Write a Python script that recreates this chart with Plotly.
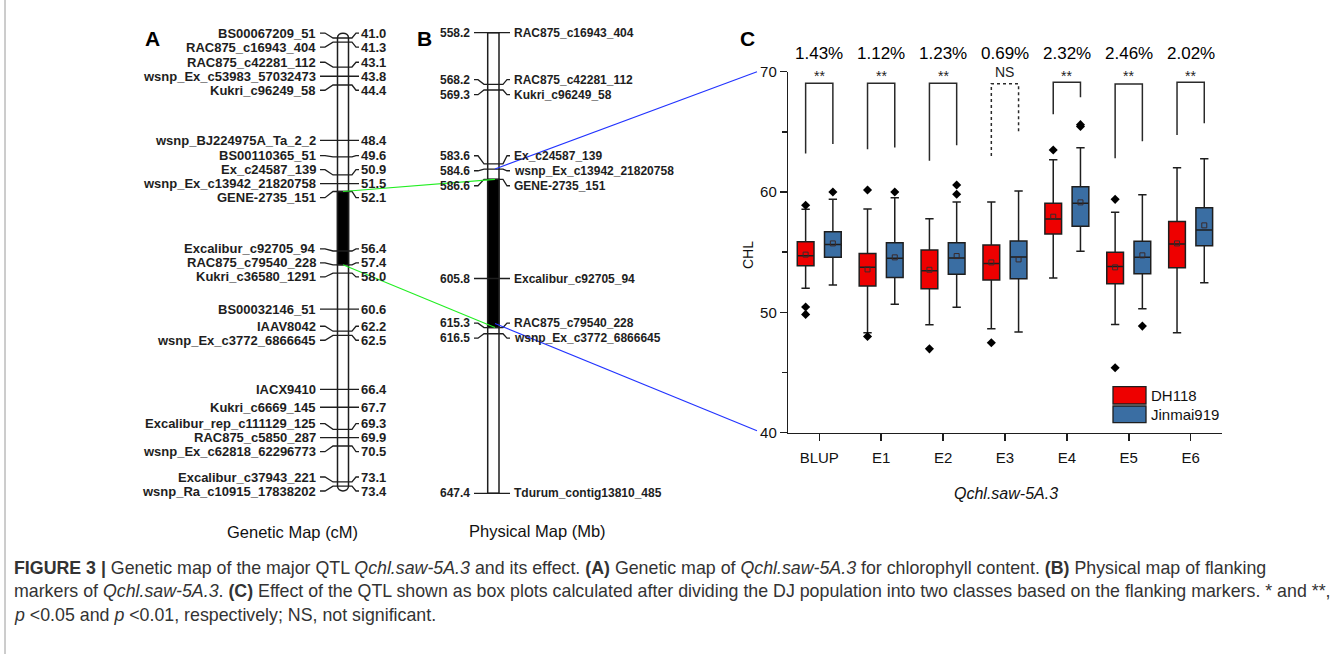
import plotly.graph_objects as go

W, H = 1342, 654

# ---------------- DATA ----------------
genetic_markers = ["BS00067209_51", "RAC875_c16943_404", "RAC875_c42281_112", "wsnp_Ex_c53983_57032473",
                   "Kukri_c96249_58", "wsnp_BJ224975A_Ta_2_2", "BS00110365_51", "Ex_c24587_139",
                   "wsnp_Ex_c13942_21820758", "GENE-2735_151", "Excalibur_c92705_94", "RAC875_c79540_228",
                   "Kukri_c36580_1291", "BS00032146_51", "IAAV8042", "wsnp_Ex_c3772_6866645", "IACX9410",
                   "Kukri_c6669_145", "Excalibur_rep_c111129_125", "RAC875_c5850_287",
                   "wsnp_Ex_c62818_62296773", "Excalibur_c37943_221", "wsnp_Ra_c10915_17838202"]
genetic_cm = [41.0, 41.3, 43.1, 43.8, 44.4, 48.4, 49.6, 50.9, 51.5, 52.1, 56.4, 57.4, 58.0, 60.6, 62.2,
              62.5, 66.4, 67.7, 69.3, 69.9, 70.5, 73.1, 73.4]
physical_markers = ["RAC875_c16943_404", "RAC875_c42281_112", "Kukri_c96249_58", "Ex_c24587_139",
                    "wsnp_Ex_c13942_21820758", "GENE-2735_151", "Excalibur_c92705_94", "RAC875_c79540_228",
                    "wsnp_Ex_c3772_6866645", "Tdurum_contig13810_485"]
physical_mb = [558.2, 568.2, 569.3, 583.6, 584.6, 586.6, 605.8, 615.3, 616.5, 647.4]
qtl_cm = [52.1, 57.4]
qtl_mb = [586.6, 615.3]

envs = ["BLUP", "E1", "E2", "E3", "E4", "E5", "E6"]
dh_q1 = [53.87, 52.20, 51.96, 52.68, 56.51, 52.38, 53.71]
dh_median = [54.70, 53.74, 53.46, 54.07, 57.76, 53.82, 55.68]
dh_q3 = [55.87, 54.90, 55.18, 55.60, 59.06, 54.99, 57.56]
dh_low = [52.00, 48.30, 48.97, 48.64, 52.85, 49.00, 48.30]
dh_high = [58.56, 58.60, 57.78, 59.17, 62.69, 58.31, 62.02]
dh_mean = [54.80, 53.57, 53.54, 54.15, 57.95, 53.74, 55.73]
dh_outliers = [[58.90, 50.44, 49.83], [60.17, 48.00], [46.97], [47.47], [63.49], [59.39, 45.40], []]

jm_q1 = [54.57, 52.90, 53.16, 52.79, 57.15, 53.21, 55.54]
jm_median = [55.65, 54.49, 54.51, 54.60, 59.06, 54.57, 56.84]
jm_q3 = [56.70, 55.79, 55.79, 55.93, 60.44, 55.90, 58.70]
jm_low = [52.27, 50.67, 50.42, 48.36, 55.07, 50.31, 52.46]
jm_high = [59.40, 59.53, 59.17, 60.08, 63.68, 59.78, 62.77]
jm_mean = [55.73, 54.57, 54.68, 54.40, 59.14, 54.74, 57.23]
jm_outliers = [[60.00], [60.00], [60.58, 59.81], [], [65.45, 65.60], [48.86], []]

bracket_top = [69.03, 69.03, 69.03, 69.00, 69.12, 68.98, 69.12]
bracket_left = [63.20, 63.55, 62.60, 62.99, 66.46, 62.80, 64.74]
bracket_right = [63.99, 63.71, 63.88, 64.82, 67.87, 64.21, 65.71]
significance = ["**", "**", "**", "NS", "**", "**", "**"]
effect_pct = ["1.43%", "1.12%", "1.23%", "0.69%", "2.32%", "2.46%", "2.02%"]

# ---------------- LAYOUT CONSTANTS ----------------
BASE = "Liberation Sans, Arial, sans-serif"
INK = "#1e1e1e"
RED = "#EE0000"
BLUE = "#3A6EA3"

A_P0, A_C0, A_K = 38.0, 41.0, 13.83      # genetic map: pixel = A_P0 + (cM - A_C0) * A_K
B_P0, B_C0, B_K = 32.7, 558.2, 5.164     # physical map
C_X0, C_X1 = 788.3, 1221.6               # panel C pixel frame
C_Y0, C_Y1 = 71.7, 432.7
C_YMIN, C_YMAX = 40, 70


def a_px(v):
    return A_P0 + (v - A_C0) * A_K


def b_px(v):
    return B_P0 + (v - B_C0) * B_K


def c_px(v):
    return C_Y1 - (v - C_YMIN) / (C_YMAX - C_YMIN) * (C_Y1 - C_Y0)


def spread(values, gap):
    """cluster-based label spreading (in axis units)"""
    clusters = []
    for v in values:
        clusters.append([v])
        while len(clusters) > 1:
            prev, cur = clusters[-2], clusters[-1]
            mp = sum(prev) / len(prev)
            mc = sum(cur) / len(cur)
            top_cur = mc - (len(cur) - 1) * gap / 2
            bot_prev = mp + (len(prev) - 1) * gap / 2
            if top_cur - bot_prev < gap:
                clusters[-2] = prev + cur
                clusters.pop()
            else:
                break
    out = []
    for c in clusters:
        m = sum(c) / len(c)
        for i in range(len(c)):
            out.append(m + (i - (len(c) - 1) / 2) * gap)
    return out


def ann(x, y, text, size, color="#111", xa="center", ya="middle", **kw):
    return dict(x=x / W, y=1 - y / H, xref="paper", yref="paper", text=text, showarrow=False,
                xanchor=xa, yanchor=ya, font=dict(family=BASE, size=size, color=color), **kw)


fig = go.Figure()

# ---------------- PANEL A & B ----------------
a_label_y = spread(genetic_cm, 14.0 / A_K)
b_label_y = spread(physical_mb, 15.0 / B_K)

AXL, AXR = 337.5, 348.5
BXL, BXR = 487.7, 499.0

ax_, ay_ = [], []
for cm, ly in zip(genetic_cm, a_label_y):
    ax_ += [320, 325, 333, AXL, AXR, 352, 356, 359, None]
    ay_ += [ly, ly, cm, cm, cm, cm, ly, ly, None]
fig.add_trace(go.Scatter(x=ax_, y=ay_, xaxis="x2", yaxis="y2", mode="lines",
                         line=dict(color=INK, width=1.3), hoverinfo="skip", showlegend=False))
bx_, by_ = [], []
for mb, ly in zip(physical_mb, b_label_y):
    bx_ += [474, 478, 484, BXL, BXR, 503, 507, 510, None]
    by_ += [ly, ly, mb, mb, mb, mb, ly, ly, None]
fig.add_trace(go.Scatter(x=bx_, y=by_, xaxis="x3", yaxis="y3", mode="lines",
                         line=dict(color=INK, width=1.3), hoverinfo="skip", showlegend=False))

annotations = []
LBL_A = dict(family=BASE, size=13, color=INK, weight="bold")
LBL_B = dict(family=BASE, size=12, color=INK, weight="bold")
for name, cm, ly in zip(genetic_markers, genetic_cm, a_label_y):
    annotations.append(dict(x=318, y=ly, xref="x2", yref="y2", text=name, showarrow=False,
                            xanchor="right", yanchor="middle", font=LBL_A))
    annotations.append(dict(x=359, y=ly, xref="x2", yref="y2", text=f"{cm:.1f}", showarrow=False,
                            xanchor="left", yanchor="middle", font=LBL_A))
for name, mb, ly in zip(physical_markers, physical_mb, b_label_y):
    annotations.append(dict(x=472, y=ly, xref="x3", yref="y3", text=f"{mb:.1f}", showarrow=False,
                            xanchor="right", yanchor="middle", font=LBL_B))
    annotations.append(dict(x=512, y=ly, xref="x3", yref="y3", text=name, showarrow=False,
                            xanchor="left", yanchor="middle", font=LBL_B))

shapes = []
top, bot = min(genetic_cm), max(genetic_cm)
cap = 6.5 / A_K
shapes.append(dict(type="path", xref="x2", yref="y2", layer="below",
                   path=(f"M {AXL},{top} C {AXL},{top - cap} {AXR},{top - cap} {AXR},{top} "
                         f"L {AXR},{bot} C {AXR},{bot + cap} {AXL},{bot + cap} {AXL},{bot} Z"),
                   fillcolor="white", line=dict(color=INK, width=1.5)))
shapes.append(dict(type="rect", xref="x2", yref="y2", layer="below", x0=AXL, x1=AXR,
                   y0=qtl_cm[0], y1=qtl_cm[1], fillcolor="black", line=dict(color=INK, width=1.5)))
shapes.append(dict(type="rect", xref="x3", yref="y3", layer="below", x0=BXL, x1=BXR,
                   y0=min(physical_mb), y1=max(physical_mb), fillcolor="white",
                   line=dict(color=INK, width=1.5)))
shapes.append(dict(type="rect", xref="x3", yref="y3", layer="below", x0=BXL, x1=BXR,
                   y0=qtl_mb[0], y1=qtl_mb[1], fillcolor="black", line=dict(color=INK, width=1.5)))


def pline(x0, y0, x1, y1, color, width=1.1, dash="solid"):
    return dict(type="line", xref="paper", yref="paper", x0=x0 / W, y0=1 - y0 / H,
                x1=x1 / W, y1=1 - y1 / H, line=dict(color=color, width=width, dash=dash))


GREEN = "#22ee22"
LBLUE = "#2233ff"
shapes.append(pline(343, a_px(qtl_cm[0]), 495, b_px(qtl_mb[0]), GREEN))
shapes.append(pline(343, a_px(qtl_cm[1]), 495, b_px(qtl_mb[1]), GREEN))
shapes.append(pline(495, b_px(584.6), 757, c_px(C_YMAX), LBLUE))
shapes.append(pline(495, b_px(qtl_mb[1]) - 4, 757, c_px(C_YMIN) - 2, LBLUE))
shapes.append(pline(5, 0, 5, H, "#9a9a9a", width=1))

# ---------------- PANEL C ----------------
OFF, BW = 0.22, 0.27
xs = list(range(len(envs)))
fig.add_trace(go.Box(x=[i - OFF for i in xs], q1=dh_q1, median=dh_median, q3=dh_q3,
                     lowerfence=dh_low, upperfence=dh_high, width=BW, whiskerwidth=0.5,
                     fillcolor=RED, line=dict(color=INK, width=1.5), boxpoints=False,
                     name="DH118", showlegend=False, hoverinfo="skip"))
fig.add_trace(go.Box(x=[i + OFF for i in xs], q1=jm_q1, median=jm_median, q3=jm_q3,
                     lowerfence=jm_low, upperfence=jm_high, width=BW, whiskerwidth=0.5,
                     fillcolor=BLUE, line=dict(color=INK, width=1.5), boxpoints=False,
                     name="Jinmai919", showlegend=False, hoverinfo="skip"))
fig.add_trace(go.Scatter(x=[i - OFF for i in xs] + [i + OFF for i in xs], y=dh_mean + jm_mean,
                         mode="markers", marker=dict(symbol="square-open", size=5, color="#3a2a2a",
                                                     line=dict(width=1)),
                         showlegend=False, hoverinfo="skip"))
ox, oy = [], []
for i, (a, b) in enumerate(zip(dh_outliers, jm_outliers)):
    for v in a:
        ox.append(i - OFF); oy.append(v)
    for v in b:
        ox.append(i + OFF); oy.append(v)
fig.add_trace(go.Scatter(x=ox, y=oy, mode="markers",
                         marker=dict(symbol="diamond", size=7, color="black"),
                         showlegend=False, hoverinfo="skip", cliponaxis=False))
for dashed in (False, True):
    bxs, bys = [], []
    for i in xs:
        if (significance[i] == "NS") != dashed:
            continue
        bxs += [i - OFF, i - OFF, i + OFF, i + OFF, None]
        bys += [bracket_left[i], bracket_top[i], bracket_top[i], bracket_right[i], None]
    fig.add_trace(go.Scatter(x=bxs, y=bys, mode="lines", cliponaxis=False,
                             line=dict(color="#2a2a2a", width=1.5, dash="dot" if dashed else "solid"),
                             showlegend=False, hoverinfo="skip"))

for i in xs:
    annotations.append(dict(x=i, y=1 - 53.3 / H, xref="x", yref="paper", text=effect_pct[i],
                            showarrow=False, xanchor="center", yanchor="middle",
                            font=dict(family=BASE, size=17, color="black")))
    annotations.append(dict(x=i, y=1 - 72.5 / H, xref="x", yref="paper", text=significance[i],
                            showarrow=False, xanchor="center", yanchor="middle",
                            yshift=-4 if significance[i] == "**" else 0,
                            font=dict(family=BASE, size=14, color="#222")))

for (y0, y1, col, lab) in [(386.7, 404.0, RED, "DH118"), (406.0, 422.7, BLUE, "Jinmai919")]:
    shapes.append(dict(type="rect", xref="paper", yref="paper", x0=1113 / W, x1=1146 / W,
                       y0=1 - y1 / H, y1=1 - y0 / H, fillcolor=col, line=dict(color=INK, width=1.3)))
    annotations.append(ann(1149, (y0 + y1) / 2, lab, 15, xa="left"))

annotations += [
    ann(748, 255, "CHL", 14, textangle=-90),
    ann(1006, 493, "<i>Qchl.saw-5A.3</i>", 16),
    ann(292, 532, "Genetic Map (cM)", 16.5),
    ann(537, 531, "Physical Map (Mb)", 16.5),
    ann(152, 38, "<b>A</b>", 21, color="black"),
    ann(424, 38, "<b>B</b>", 21, color="black"),
    ann(747, 38, "<b>C</b>", 21, color="black"),
]

cap_lines = [
    "<b>FIGURE 3 |</b> Genetic map of the major QTL <i>Qchl.saw-5A.3</i> and its effect. <b>(A)</b> Genetic map of "
    "<i>Qchl.saw-5A.3</i> for chlorophyll content. <b>(B)</b> Physical map of flanking",
    "markers of <i>Qchl.saw-5A.3</i>. <b>(C)</b> Effect of the QTL shown as box plots calculated after dividing the "
    "DJ population into two classes based on the flanking markers. * and **,",
    "<i>p</i> &lt;0.05 and <i>p</i> &lt;0.01, respectively; NS, not significant.",
]
for k, t in enumerate(cap_lines):
    annotations.append(ann(12, 568 + 23.3 * k, t, 17.8, color="#333", xa="left"))

hidden = dict(domain=[0, 1], visible=False, fixedrange=True, automargin=False)
fig.update_layout(
    template="none",
    width=W, height=H, margin=dict(l=0, r=0, t=0, b=0, pad=0, autoexpand=False),
    paper_bgcolor="white", plot_bgcolor="rgba(0,0,0,0)", showlegend=False,
    shapes=shapes, annotations=annotations,
    xaxis=dict(domain=[C_X0 / W, C_X1 / W], range=[-0.5, 6.5], tickvals=xs, ticktext=envs,
               showline=True, linecolor=INK, linewidth=1.5, ticks="outside", ticklen=7, tickwidth=1.5,
               tickcolor=INK, showgrid=False, zeroline=False, ticklabelstandoff=4, automargin=False,
               tickfont=dict(family=BASE, size=15, color="#111")),
    yaxis=dict(domain=[1 - C_Y1 / H, 1 - C_Y0 / H], range=[C_YMIN, C_YMAX], tickvals=[40, 50, 60, 70],
               showline=True, linecolor=INK, linewidth=1.5, ticks="outside", ticklen=7, tickwidth=1.5,
               tickcolor=INK, showgrid=False, zeroline=False, automargin=False,
               minor=dict(tickvals=[45, 55, 65], ticks="outside", ticklen=5, tickwidth=1.5, tickcolor=INK),
               tickfont=dict(family=BASE, size=15, color="#111")),
    xaxis2=dict(hidden, range=[0, W], anchor="y2"),
    yaxis2=dict(hidden, range=[A_C0 + (H - A_P0) / A_K, A_C0 - A_P0 / A_K], anchor="x2"),
    xaxis3=dict(hidden, range=[0, W], anchor="y3"),
    yaxis3=dict(hidden, range=[B_C0 + (H - B_P0) / B_K, B_C0 - B_P0 / B_K], anchor="x3"),
)

fig.write_html(
    "out.html",
    config={"displayModeBar": False, "staticPlot": True},
    post_script=("document.body.style.margin='0px';"
                 "var gd=document.getElementById('{plot_id}');"
                 "gd.style.position='absolute';gd.style.left='0px';gd.style.top='0px';"),
)
